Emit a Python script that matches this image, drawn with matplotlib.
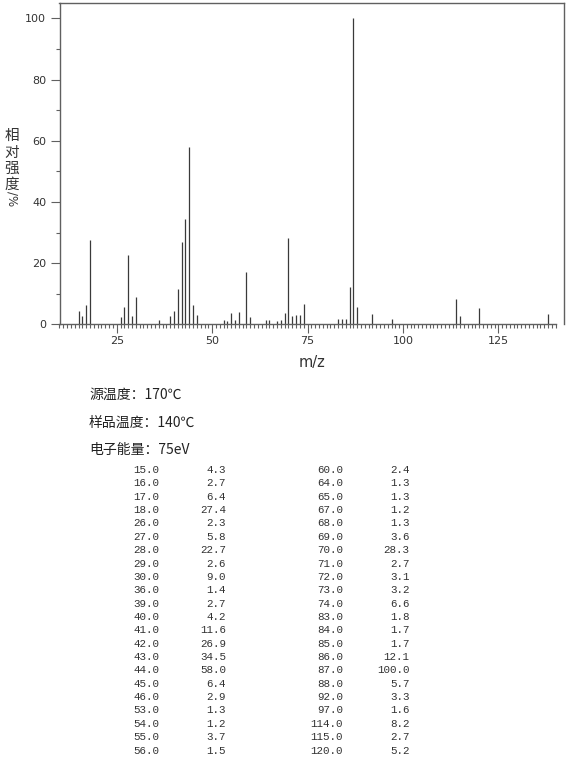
import matplotlib
matplotlib.use("Agg")
import matplotlib.pyplot as plt
from matplotlib.ticker import FixedLocator

plt.rcParams['font.family'] = ['DejaVu Sans']

# Spectrum peaks (m/z, relative intensity %)
mz = [15, 16, 17, 18, 26, 27, 28, 29, 30, 36, 39, 40, 41, 42, 43, 44, 45, 46,
      53, 54, 55, 56, 57, 59, 60, 64, 65, 67, 68, 69, 70, 71, 72, 73, 74,
      83, 84, 85, 86, 87, 88, 92, 97, 114, 115, 120, 138]
intensity = [4.3, 2.7, 6.4, 27.4, 2.3, 5.8, 22.7, 2.6, 9.0, 1.4, 2.7, 4.2, 11.6, 26.9,
             34.5, 58.0, 6.4, 2.9, 1.3, 1.2, 3.7, 1.5, 3.9, 17.0, 2.4, 1.3, 1.3, 1.2,
             1.3, 3.6, 28.3, 2.7, 3.1, 3.2, 6.6, 1.8, 1.7, 1.7, 12.1, 100.0, 5.7,
             3.3, 1.6, 8.2, 2.7, 5.2, 3.4]

# Visible table (two columns)
table_left_mz = ["15.0", "16.0", "17.0", "18.0", "26.0", "27.0", "28.0", "29.0", "30.0",
                 "36.0", "39.0", "40.0", "41.0", "42.0", "43.0", "44.0", "45.0", "46.0",
                 "53.0", "54.0", "55.0", "56.0"]
table_left_int = ["4.3", "2.7", "6.4", "27.4", "2.3", "5.8", "22.7", "2.6", "9.0",
                  "1.4", "2.7", "4.2", "11.6", "26.9", "34.5", "58.0", "6.4", "2.9",
                  "1.3", "1.2", "3.7", "1.5"]
table_right_mz = ["60.0", "64.0", "65.0", "67.0", "68.0", "69.0", "70.0", "71.0", "72.0",
                  "73.0", "74.0", "83.0", "84.0", "85.0", "86.0", "87.0", "88.0", "92.0",
                  "97.0", "114.0", "115.0", "120.0"]
table_right_int = ["2.4", "1.3", "1.3", "1.2", "1.3", "3.6", "28.3", "2.7", "3.1",
                   "3.2", "6.6", "1.8", "1.7", "1.7", "12.1", "100.0", "5.7", "3.3",
                   "1.6", "8.2", "2.7", "5.2"]

info_lines = ["源温度：170℃", "样品温度：140℃", "电子能量：75eV"]
ylabel_chars = ["相", "对", "强", "度"]

W, H = 570, 760
fig = plt.figure(figsize=(W / 100, H / 100), dpi=100)
fig.patch.set_facecolor('white')

def fx(px):
    return px / W

def fy(py):
    return 1 - py / H

ax_l, ax_r, ax_t, ax_b = 59.5, 564, 2.7, 324.3
ax = fig.add_axes([fx(ax_l), fy(ax_b), fx(ax_r - ax_l), (ax_b - ax_t) / H])

bar_color = '#3a3a3a'
axis_color = '#606060'
ax.vlines(mz, 0, intensity, colors=bar_color, linewidth=0.9)

ax.set_xlim(10, 142.2)
ax.set_ylim(0, 105.1)

for s in ax.spines.values():
    s.set_color(axis_color)
    s.set_linewidth(1.0)
ax.spines['bottom'].set_bounds(10, 140)

ax.xaxis.set_major_locator(FixedLocator([25, 50, 75, 100, 125]))
ax.xaxis.set_minor_locator(FixedLocator(list(range(10, 141))))
ax.yaxis.set_major_locator(FixedLocator([0, 20, 40, 60, 80, 100]))
ax.yaxis.set_minor_locator(FixedLocator([10, 30, 50, 70, 90]))

ax.tick_params(axis='x', which='major', length=6.5, width=0.8, color=axis_color,
               labelsize=8, labelcolor='#333333', pad=2)
ax.tick_params(axis='x', which='minor', length=3.2, width=0.8, color=axis_color)
ax.tick_params(axis='y', which='major', length=6.5, width=0.8, color=axis_color,
               labelsize=8, labelcolor='#333333', pad=3)
ax.tick_params(axis='y', which='minor', length=3.2, width=0.8, color=axis_color)

# x label
fig.text(fx(312), fy(363), "m/z", ha='center', va='center', fontsize=10.5,
         color='#333333')

# y label: stacked vertical text
cjk = ['Noto Sans CJK SC', 'DejaVu Sans']
ys = [136, 152.5, 169, 185]
for ch, yy in zip(ylabel_chars, ys):
    fig.text(fx(12), fy(yy), ch, ha='center', va='center', fontsize=10.5,
             family=cjk, color='#333333')
fig.text(fx(12), fy(199), "/%", ha='center', va='center', fontsize=8.5,
         rotation=270, color='#333333')

# info lines
for line, yy in zip(info_lines, [395, 422.7, 450]):
    fig.text(fx(89), fy(yy), line, ha='left', va='center', fontsize=10,
             family=cjk, color='#222222')

# table
mono = ['Liberation Mono', 'DejaVu Sans Mono']
row0, dy = 470, 13.36
for i in range(len(table_left_mz)):
    yy = fy(row0 + i * dy)
    fig.text(fx(159.5), yy, table_left_mz[i], ha='right', va='center',
             fontsize=7.8, family=mono, color='#333333')
    fig.text(fx(226), yy, table_left_int[i], ha='right', va='center',
             fontsize=7.8, family=mono, color='#333333')
for i in range(len(table_right_mz)):
    yy = fy(row0 + i * dy)
    fig.text(fx(343), yy, table_right_mz[i], ha='right', va='center',
             fontsize=7.8, family=mono, color='#333333')
    fig.text(fx(409.5), yy, table_right_int[i], ha='right', va='center',
             fontsize=7.8, family=mono, color='#333333')

fig.savefig("out.png", dpi=100, facecolor='white')
